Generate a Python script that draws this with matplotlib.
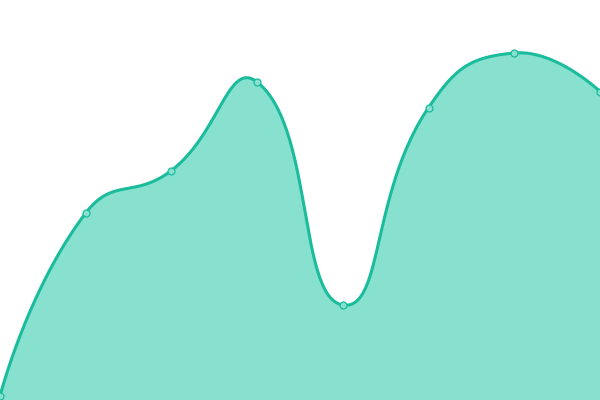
import numpy as np
import matplotlib
matplotlib.use('Agg')
import matplotlib.pyplot as plt

# valores (escala 0..400, eje y hacia arriba)
categorias = list(range(8))
valores = [4, 187, 229.5, 318, 95, 292.5, 347, 308.5]

color_linea = '#1abc9c'
color_area = '#88e0cf'


# curva suave tipo bezier (como smooth=True), pasa por todos los puntos
def suavizar(px, py, smooth=0.5, n=60):
    px = np.asarray(px, float)
    py = np.asarray(py, float)
    N = len(px)
    cps = []
    for i in range(N):
        if i == 0 or i == N - 1:
            cps.append(((px[i], py[i]), (px[i], py[i])))
            continue
        vx = (px[i + 1] - px[i - 1]) * smooth
        vy = (py[i + 1] - py[i - 1]) * smooth
        d0 = np.hypot(px[i] - px[i - 1], py[i] - py[i - 1])
        d1 = np.hypot(px[i + 1] - px[i], py[i + 1] - py[i])
        s = d0 + d1
        c0 = (px[i] - vx * d0 / s, py[i] - vy * d0 / s)
        c1 = (px[i] + vx * d1 / s, py[i] + vy * d1 / s)
        cps.append((c0, c1))
    xs, ys = [], []
    t = np.linspace(0, 1, n)
    for i in range(N - 1):
        p0 = np.array([px[i], py[i]])
        p1 = np.array(cps[i][1])
        p2 = np.array(cps[i + 1][0])
        p3 = np.array([px[i + 1], py[i + 1]])
        b = ((1 - t) ** 3)[:, None] * p0 + (3 * (1 - t) ** 2 * t)[:, None] * p1 \
            + (3 * (1 - t) * t ** 2)[:, None] * p2 + (t ** 3)[:, None] * p3
        xs.extend(b[:, 0])
        ys.extend(b[:, 1])
    return np.array(xs), np.array(ys)


fig = plt.figure(figsize=(6, 4), dpi=100)
ax = fig.add_axes([0, 0, 1, 1])

# pasar a pixeles para que el suavizado se vea igual
x_px = np.array(categorias) * 600 / 7
xs, ys = suavizar(x_px, valores)

ax.fill_between(xs, ys, 0, color=color_area, lw=0)
ax.plot(xs, ys, color=color_linea, lw=2.2, solid_capstyle='round')
ax.plot(x_px, valores, 'o', ms=5, mfc=color_area, mec=color_linea, mew=0.9)

ax.set_xlim(0, 600)
ax.set_ylim(0, 400)
ax.axis('off')

plt.savefig('out.png', dpi=100)
plt.close()
